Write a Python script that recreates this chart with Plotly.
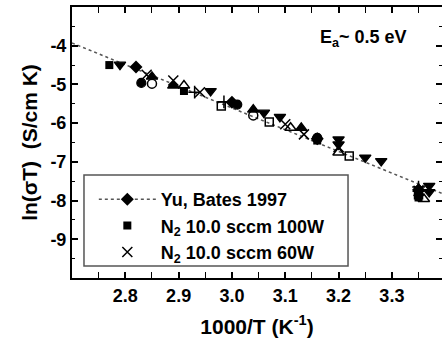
import plotly.graph_objects as go

# Fit line (Ea ~ 0.5 eV)
fit_x = [2.70, 3.40]
fit_y = [-3.93, -7.85]

# Yu, Bates 1997 (diamonds)
yu_x = [2.82, 3.00, 3.16, 3.35]
yu_y = [-4.55, -5.46, -6.40, -7.72]

# N2 10.0 sccm 100W (filled squares)
sq_x = [2.77, 2.91, 3.16, 3.35, 3.35]
sq_y = [-4.50, -5.17, -6.45, -7.92, -7.80]

# N2 10.0 sccm 60W (crosses)
x60_x = [2.84, 2.89, 2.94, 3.10, 3.135, 3.20, 3.35]
x60_y = [-4.75, -4.90, -5.20, -6.03, -6.29, -6.62, -7.75]

# other (unlabelled) series
fc_x = [2.83, 3.01, 3.16]
fc_y = [-4.96, -5.52, -6.38]
oc_x = [2.85, 3.04, 3.16]
oc_y = [-4.98, -5.80, -6.40]
ft_x = [2.85, 2.89, 3.04, 3.13, 3.35]
ft_y = [-4.80, -5.03, -5.65, -6.12, -7.70]
ot_x = [2.91, 3.11, 3.20, 3.36]
ot_y = [-5.03, -6.12, -6.76, -7.96]
dt_x = [2.79, 2.96, 3.06, 3.09, 3.20, 3.20, 3.25, 3.28, 3.37, 3.37]
dt_y = [-4.49, -5.17, -5.73, -5.84, -6.42, -6.55, -6.89, -6.98, -7.62, -7.78]
os_x = [2.98, 3.07, 3.22, 3.35]
os_y = [-5.56, -5.97, -6.85, -7.85]
pl_x = [2.93, 2.985, 3.35]
pl_y = [-5.20, -5.45, -7.65]

x_ticks = [2.8, 2.9, 3.0, 3.1, 3.2, 3.3]
x_ticklabels = ["2.8", "2.9", "3.0", "3.1", "3.2", "3.3"]
y_ticks = [-4, -5, -6, -7, -8, -9]
y_ticklabels = ["-4", "-5", "-6", "-7", "-8", "-9"]

FONT = "Liberation Sans, Arial, sans-serif"

# split markers with None so the legend shows dotted line + diamond
yu_xl, yu_yl = [], []
for a, b in zip(yu_x, yu_y):
    yu_xl += [a, None]
    yu_yl += [b, None]

fig = go.Figure()
fig.add_trace(go.Scatter(x=fit_x, y=fit_y, mode="lines", showlegend=False,
                         line=dict(color="#555555", width=1.5, dash="dot")))

def hidden(x, y, symbol, size, color="black", lw=1.2):
    fig.add_trace(go.Scatter(x=x, y=y, mode="markers", showlegend=False,
                             marker=dict(symbol=symbol, size=size, color=color,
                                         line=dict(color="black", width=lw))))

hidden(fc_x, fc_y, "circle", 9)
hidden(oc_x, oc_y, "circle-open", 9, lw=1.5)
hidden(ft_x, ft_y, "triangle-up", 10)
hidden(ot_x, ot_y, "triangle-up-open", 10, lw=1.5)
hidden(dt_x, dt_y, "triangle-down", 10)
hidden(os_x, os_y, "square-open", 8, lw=1.5)
hidden(pl_x, pl_y, "cross-thin-open", 9, lw=1.5)

fig.add_trace(go.Scatter(x=yu_xl, y=yu_yl, mode="lines+markers", name="Yu, Bates 1997",
                         connectgaps=False,
                         line=dict(color="#555555", width=1.5, dash="dot"),
                         marker=dict(symbol="diamond", size=10, color="black")))
fig.add_trace(go.Scatter(x=sq_x, y=sq_y, mode="markers", name="N<sub>2</sub> 10.0 sccm 100W",
                         marker=dict(symbol="square", size=8, color="black")))
fig.add_trace(go.Scatter(x=x60_x, y=x60_y, mode="markers", name="N<sub>2</sub> 10.0 sccm 60W",
                         marker=dict(symbol="x-thin-open", size=10, color="black",
                                     line=dict(color="black", width=1.5))))

# invisible trace for right-side ticks
fig.add_trace(go.Scatter(x=fit_x, y=fit_y, yaxis="y2", mode="lines", showlegend=False,
                         line=dict(width=0), hoverinfo="skip", opacity=0))

fig.update_layout(
    width=442, height=342,
    margin=dict(l=72, r=0, t=7, b=64),
    paper_bgcolor="white", plot_bgcolor="white",
    font=dict(family=FONT, size=18, color="black", weight="bold"),
    xaxis=dict(range=[2.7, 3.394], tickvals=x_ticks, ticktext=x_ticklabels,
               ticks="inside", ticklen=6, tickwidth=1.5, tickcolor="black",
               minor=dict(dtick=0.05, ticks="inside", ticklen=3, tickwidth=1.2, tickcolor="black"),
               showline=True, linewidth=2, linecolor="black", mirror="allticks",
               showgrid=False, zeroline=False,
               tickfont=dict(size=18, family=FONT, weight="bold"),
               title=dict(text="1000/T (K<sup>-1</sup>)", standoff=15,
                          font=dict(size=21, family=FONT, weight="bold"))),
    yaxis=dict(range=[-10, -3], tickvals=y_ticks, ticktext=y_ticklabels,
               ticks="inside", ticklen=6, tickwidth=1.5, tickcolor="black",
               minor=dict(dtick=0.5, ticks="inside", ticklen=3, tickwidth=1.2, tickcolor="black"),
               showline=True, linewidth=2, linecolor="black",
               showgrid=False, zeroline=False,
               tickfont=dict(size=18, family=FONT, weight="bold"),
               title=dict(text="ln(σT)  (S/cm K)", standoff=7,
                          font=dict(size=21, family=FONT, weight="bold"))),
    yaxis2=dict(range=[-10, -3], overlaying="y", side="right", showticklabels=False,
                tickvals=y_ticks, ticks="inside", ticklen=6, tickwidth=1.5, tickcolor="black",
                minor=dict(dtick=0.5, ticks="inside", ticklen=3, tickwidth=1.2, tickcolor="black"),
                showgrid=False, zeroline=False, showline=False),
    legend=dict(x=0.059, y=0.358, xanchor="left", yanchor="top",
                borderwidth=0, bgcolor="rgba(0,0,0,0)",
                font=dict(size=18, family=FONT, weight="bold"),
                itemwidth=57, tracegroupgap=0),
    shapes=[dict(type="rect", xref="paper", yref="paper",
                 x0=0.0324, x1=0.746, y0=0.044, y1=0.380,
                 line=dict(color="#555555", width=1.5), fillcolor="white", layer="below")],
    annotations=[dict(text="E<sub>a</sub>~ 0.5 eV", x=0.665, y=0.935, xref="paper", yref="paper",
                      xanchor="left", yanchor="top", showarrow=False,
                      font=dict(size=18, family=FONT, weight="bold"))],
)

fig.write_html("out.html")
